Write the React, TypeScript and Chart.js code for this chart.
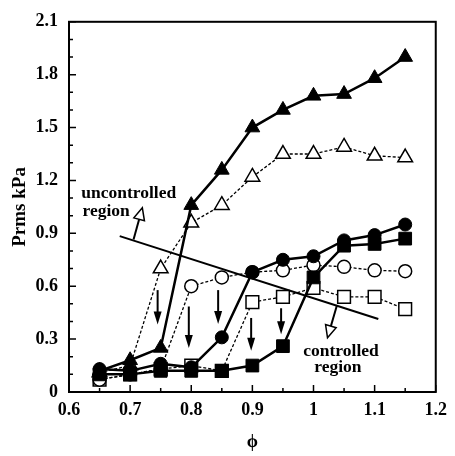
import React, { useEffect, useRef } from "react";
import { Chart, registerables } from "chart.js";

Chart.register(...registerables);

// ---- data ----
const phi = [0.65, 0.7, 0.75, 0.8, 0.85, 0.9, 0.95, 1.0, 1.05, 1.1, 1.15];
const filledTriangle = [0.12, 0.18, 0.25, 1.06, 1.26, 1.5, 1.6, 1.68, 1.69, 1.78, 1.9];
const openTriangle = [0.11, 0.15, 0.7, 0.96, 1.06, 1.22, 1.35, 1.35, 1.39, 1.34, 1.33];
const filledCircle = [0.13, 0.12, 0.16, 0.14, 0.31, 0.68, 0.75, 0.77, 0.86, 0.89, 0.95];
const openCircle = [0.07, 0.1, 0.13, 0.6, 0.65, 0.68, 0.69, 0.72, 0.71, 0.69, 0.685];
const filledSquare = [0.1, 0.1, 0.12, 0.12, 0.12, 0.15, 0.26, 0.65, 0.83, 0.84, 0.87];
const openSquare = [0.07, 0.1, 0.13, 0.15, 0.12, 0.51, 0.54, 0.59, 0.54, 0.54, 0.47];

const xTicks = [0.6, 0.7, 0.8, 0.9, 1.0, 1.1, 1.2];
const xTickLabels = ["0.6", "0.7", "0.8", "0.9", "1", "1.1", "1.2"];
const xMinor = [0.65, 0.75, 0.85, 0.95, 1.05, 1.15];
const yTicks = [0, 0.3, 0.6, 0.9, 1.2, 1.5, 1.8, 2.1];
const yTickLabels = ["0", "0.3", "0.6", "0.9", "1.2", "1.5", "1.8", "2.1"];
const yMinor = [0.1, 0.2, 0.4, 0.5, 0.7, 0.8, 1.0, 1.1, 1.3, 1.4, 1.6, 1.7, 1.9, 2.0];

// boundary line between regions
const boundaryX = [0.683, 1.106];
const boundaryY = [0.884, 0.414];
// downward arrows
const arrowX = [0.745, 0.796, 0.844, 0.898, 0.947];
const arrowTop = [0.578, 0.485, 0.578, 0.42, 0.475];
const arrowTip = [0.383, 0.25, 0.386, 0.234, 0.327];
// region pointer arrows (tail -> tip)
const pointerTailX = [0.7056, 1.0385];
const pointerTailY = [0.865, 0.494];
const pointerTipX = [0.72, 1.0229];
const pointerTipY = [1.045, 0.308];
// region labels
const regionLabels = ["uncontrolled", "region", "controlled", "region"];
const regionLabelX = [0.62, 0.622, 1.045, 1.04];
const regionLabelY = [1.125, 1.025, 0.232, 0.137];
const regionLabelAlign = ["left", "left", "center", "center"];

const FONT = "'Liberation Serif', 'Times New Roman', serif";

const pts = (ys: number[]) => phi.map((x, i) => ({ x, y: ys[i] }));

const decor = {
  id: "decor",
  beforeDatasetsDraw(chart: any) {
    const { ctx, scales } = chart;
    const x = scales.x, y = scales.y;
    ctx.save();
    ctx.strokeStyle = "#000";
    ctx.lineWidth = 2;
    ctx.beginPath();
    ctx.moveTo(x.getPixelForValue(boundaryX[0]), y.getPixelForValue(boundaryY[0]));
    ctx.lineTo(x.getPixelForValue(boundaryX[1]), y.getPixelForValue(boundaryY[1]));
    ctx.stroke();
    ctx.restore();
  },
  afterDraw(chart: any) {
    const { ctx, chartArea, scales } = chart;
    const { left, right, top, bottom } = chartArea;
    const x = scales.x, y = scales.y;
    ctx.save();
    ctx.strokeStyle = "#000";
    ctx.fillStyle = "#000";
    ctx.lineWidth = 2;
    ctx.strokeRect(left, top, right - left, bottom - top);
    ctx.lineWidth = 1.5;
    ctx.beginPath();
    xTicks.forEach((v) => {
      const px = x.getPixelForValue(v);
      ctx.moveTo(px, bottom);
      ctx.lineTo(px, bottom - 7);
    });
    xMinor.forEach((v) => {
      const px = x.getPixelForValue(v);
      ctx.moveTo(px, bottom);
      ctx.lineTo(px, bottom - 4);
    });
    yTicks.forEach((v) => {
      const py = y.getPixelForValue(v);
      ctx.moveTo(left, py);
      ctx.lineTo(left + 7, py);
    });
    yMinor.forEach((v) => {
      const py = y.getPixelForValue(v);
      ctx.moveTo(left, py);
      ctx.lineTo(left + 4, py);
    });
    ctx.stroke();

    // downward arrows
    arrowX.forEach((v, i) => {
      const px = x.getPixelForValue(v);
      const py0 = y.getPixelForValue(arrowTop[i]);
      const py1 = y.getPixelForValue(arrowTip[i]);
      ctx.lineWidth = 2;
      ctx.beginPath();
      ctx.moveTo(px, py0);
      ctx.lineTo(px, py1 - 10);
      ctx.stroke();
      ctx.beginPath();
      ctx.moveTo(px, py1);
      ctx.lineTo(px - 4, py1 - 13);
      ctx.lineTo(px + 4, py1 - 13);
      ctx.closePath();
      ctx.fill();
    });

    // pointer arrows with open heads
    pointerTailX.forEach((v, i) => {
      const tx = x.getPixelForValue(v);
      const ty = y.getPixelForValue(pointerTailY[i]);
      const hx = x.getPixelForValue(pointerTipX[i]);
      const hy = y.getPixelForValue(pointerTipY[i]);
      const ang = Math.atan2(hy - ty, hx - tx);
      const len = 12, half = 5.5;
      const bx = hx - Math.cos(ang) * len;
      const by = hy - Math.sin(ang) * len;
      ctx.lineWidth = 2;
      ctx.beginPath();
      ctx.moveTo(tx, ty);
      ctx.lineTo(bx, by);
      ctx.stroke();
      ctx.lineWidth = 1.5;
      ctx.fillStyle = "#fff";
      ctx.beginPath();
      ctx.moveTo(hx, hy);
      ctx.lineTo(bx - Math.sin(ang) * half, by + Math.cos(ang) * half);
      ctx.lineTo(bx + Math.sin(ang) * half, by - Math.cos(ang) * half);
      ctx.closePath();
      ctx.fill();
      ctx.stroke();
      ctx.fillStyle = "#000";
    });

    // region labels
    ctx.font = `bold 17.5px ${FONT}`;
    ctx.textBaseline = "middle";
    regionLabels.forEach((t, i) => {
      ctx.textAlign = regionLabelAlign[i] as CanvasTextAlign;
      ctx.fillText(t, x.getPixelForValue(regionLabelX[i]), y.getPixelForValue(regionLabelY[i]));
    });
    ctx.restore();
  },
};

export default function App() {
  const ref = useRef<HTMLCanvasElement>(null);
  useEffect(() => {
    document.body.style.margin = "0";
    const filled = { pointBackgroundColor: "#000", pointBorderColor: "#000", borderColor: "#000", borderWidth: 2.5, pointBorderWidth: 1 };
    const open = { pointBackgroundColor: "#fff", pointBorderColor: "#000", borderColor: "#000", borderWidth: 1.3, borderDash: [3, 2], pointBorderWidth: 1.5 };
    // Chart.js draws dataset 0 last (on top), so filled series come first
    const chart = new Chart(ref.current!, {
      type: "line",
      data: {
        datasets: [
          { label: "filled triangle", data: pts(filledTriangle), pointStyle: "triangle", pointRadius: 8.5, ...filled },
          { label: "filled circle", data: pts(filledCircle), pointStyle: "circle", pointRadius: 6.5, ...filled },
          { label: "filled square", data: pts(filledSquare), pointStyle: "rect", pointRadius: 9, ...filled },
          { label: "open triangle", data: pts(openTriangle), pointStyle: "triangle", pointRadius: 8.5, ...open },
          { label: "open circle", data: pts(openCircle), pointStyle: "circle", pointRadius: 6.5, ...open },
          { label: "open square", data: pts(openSquare), pointStyle: "rect", pointRadius: 9, ...open },
        ] as any,
      },
      options: {
        animation: false,
        responsive: false,
        layout: { padding: { top: 15, right: 11, left: 0, bottom: 0 } },
        plugins: { legend: { display: false }, tooltip: { enabled: false } },
        scales: {
          x: {
            type: "linear",
            min: 0.6,
            max: 1.2,
            grid: { display: false, drawTicks: false },
            border: { display: false },
            afterBuildTicks: (s: any) => { s.ticks = xTicks.map((v) => ({ value: v })); },
            afterFit: (s: any) => { s.height = 64; },
            ticks: {
              padding: 8,
              color: "#000",
              font: { family: FONT, size: 18, weight: "bold" },
              maxRotation: 0,
              callback: (_v: any, i: number) => xTickLabels[i],
            },
            title: { display: true, text: "ϕ", color: "#000", font: { family: FONT, size: 18, weight: "bold" }, padding: { top: 0, bottom: 3 } },
          },
          y: {
            type: "linear",
            min: 0,
            max: 2.1,
            grid: { display: false, drawTicks: false },
            border: { display: false },
            afterBuildTicks: (s: any) => { s.ticks = yTicks.map((v) => ({ value: v })); },
            afterFit: (s: any) => { s.width = 69; },
            ticks: {
              padding: 11,
              color: "#000",
              font: { family: FONT, size: 18, weight: "bold" },
              callback: (_v: any, i: number) => yTickLabels[i],
            },
            title: { display: true, text: "Prms kPa", color: "#000", font: { family: FONT, size: 19, weight: "bold" }, padding: { top: 9, bottom: 0 } },
          },
        },
      } as any,
      plugins: [decor],
    });
    return () => chart.destroy();
  }, []);
  return (
    <div style={{ position: "fixed", left: 0, top: 0, width: 455, height: 456, background: "#fff" }}>
      <canvas ref={ref} width={455} height={456} />
    </div>
  );
}
